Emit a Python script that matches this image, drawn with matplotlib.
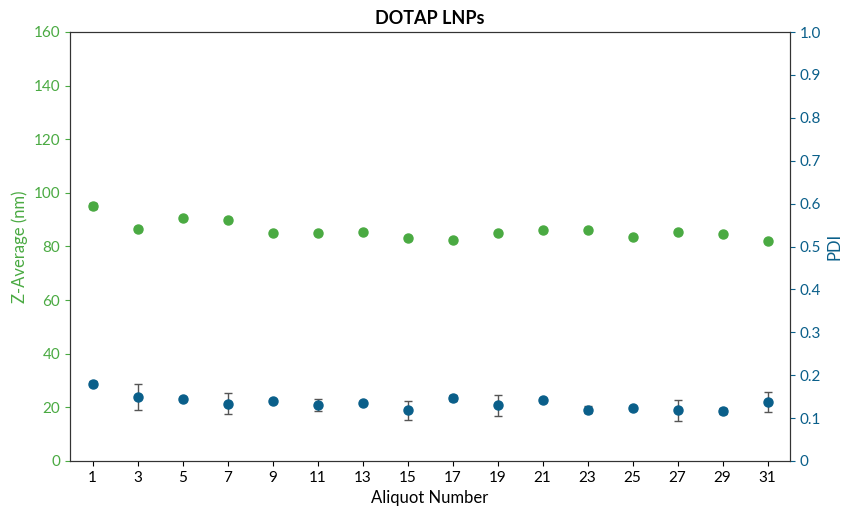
import matplotlib
matplotlib.use("Agg")
import matplotlib.pyplot as plt

plt.rcParams['font.family'] = ['Lato', 'DejaVu Sans']
aliquot = [1,3,5,7,9,11,13,15,17,19,21,23,25,27,29,31]
zavg = [95,86.5,90.5,90,85,85,85.5,83,82.5,85,86,86,83.5,85.5,84.5,82]
zerr = [1.2,0.6,0.5,0.6,0.5,0.5,0.5,0.6,0.5,0.5,0.5,0.7,0.5,0.5,0.5,0.5]
pdi = [0.180,0.150,0.145,0.134,0.141,0.130,0.136,0.118,0.146,0.130,0.142,0.120,0.124,0.118,0.116,0.138]
perr = [0.006,0.030,0.004,0.025,0.004,0.014,0.004,0.022,0.007,0.025,0.005,0.008,0.004,0.025,0.007,0.024]

green = '#4aaa42'; blue = '#0a5f8a'
fig = plt.figure(figsize=(8.59,5.14), dpi=100)
ax = fig.add_axes([70/859, 1-461/514, 720/859, 429/514])
ax.errorbar(aliquot, zavg, yerr=zerr, fmt='o', color=green, ms=6.5, ecolor='#555555', elinewidth=1, capsize=3, zorder=3)
ax.set_ylim(0,160); ax.set_yticks(range(0,161,20))
ax.set_xlim(0,32); ax.set_xticks(aliquot)
ax.tick_params(axis='y', colors=green, labelsize=11)
ax.tick_params(axis='x', labelsize=11)
ax.set_ylabel('Z-Average (nm)', color=green, fontsize=12)
ax.set_xlabel('Aliquot Number', fontsize=12)
ax.set_title('DOTAP LNPs', fontsize=13, fontweight='bold')
ax2 = ax.twinx()
ax2.errorbar(aliquot, pdi, yerr=perr, fmt='o', color=blue, ms=6.5, ecolor='#555555', elinewidth=1, capsize=3, zorder=3)
ax2.set_ylim(0,1); ax2.set_yticks([i/10 for i in range(11)])
ax2.set_yticklabels(['0']+[f'{i/10:.1f}' for i in range(1,10)]+['1.0'])
ax2.tick_params(axis='y', colors=blue, labelsize=11)
ax2.set_ylabel('PDI', color=blue, fontsize=12)
for a in (ax, ax2):
    for s in a.spines.values():
        s.set_color('#333333')
fig.savefig('out.png', dpi=100)
